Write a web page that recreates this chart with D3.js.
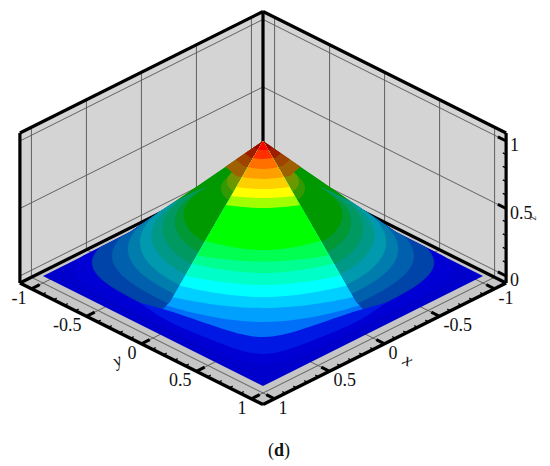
<!DOCTYPE html>
<html><head><meta charset="utf-8">
<style>html,body{margin:0;padding:0;background:#fff}svg{display:block}text{font-family:"Liberation Serif",serif;fill:#111}</style>
<script src="https://cdnjs.cloudflare.com/ajax/libs/d3/7.9.0/d3.min.js"></script>
</head><body><svg id="c" width="550" height="466"></svg>
<script>
// ---- axis data
const majorTicks = [-1, -0.5, 0, 0.5, 1];
const majorLabels = ["-1", "-0.5", "0", "0.5", "1"];
const minorTicks = [-0.9,-0.8,-0.7,-0.6,-0.4,-0.3,-0.2,-0.1,0.1,0.2,0.3,0.4,0.6,0.7,0.8,0.9];
const zTicks = [0, 0.5, 1];
const zLabels = ["0", "0.5", "1"];
const zMinorTicks = [0.1,0.2,0.3,0.4,0.6,0.7,0.8,0.9];
const boxLimit = 1.105, boxBottom = -0.052, boxTop = 1.059;

// ---- contour data
const levels = [0.05,0.1,0.15,0.2,0.25,0.3,0.35,0.4,0.45,0.5,0.55,0.6,0.65,0.7,0.75,0.8,0.85,0.9,0.95];
const bandColors = ["#0018e4","#0070f8","#00a0ff","#00d0ff","#00ffff","#00ffc8","#00ff90","#00ff50","#00ff00","#00ff00","#00ff00","#00ff00","#a0ff00","#ffff00","#ffd000","#ffa000","#ff7000","#ff3000","#ff0000"];
const floorColor = "#0000cc";
const outerShade = "#0000d4";
// half diagonal of each contour on the shaded flanks
const contourSpan = [0.86,0.777,0.686,0.614,0.559,0.505,0.455,0.40,0.359,0.314,0.268,0.227,0.191,0.164,0.136,0.105,0.082,0.055,0.027];
const contourSquareness = [6,4,3,2.5,2.2,2.1,2,2,2,2,2,2,2,2,2,2,2,2,2];
// lit face: [across, depth] samples of each contour, centre outward
const litArcs = [
 [[0,.77],[.209,.661],[.423,.48],[.559,.307],[.695,.143],[.809,-.011]],
 [[0,.677],[.209,.586],[.409,.45],[.455,.423],[.573,.323],[.664,.232],[.777,.05]],
 [[0,.602],[.445,.448]],
 [[0,.536],[.414,.436]],
 [[0,.498],[.391,.389]],
 [[0,.45],[.364,.359]],
 [[0,.402],[.332,.311]],
 [[0,.36],[.309,.3]],
 [[0,.316],[.277,.225]],
 [[0,.282],[.255,.2]],
 [[0,.248],[.227,.193]],
 [[0,.214],[.2,.174]],
 [[0,.179],[.168,.152]],
 [[0,.15],[.145,.132]],
 [[0,.13],[.123,.111]],
 [[0,.1],[.095,.082]],
 [[0,.07],[.07,.052]],
 [[0,.04],[.045,.032]],
 [[0,.02],[.023,.015]]
];
// outlines at floor level, one side: [across, depth]
const litFoot = [[.423,.236],[.455,.3]];
const silhouetteFoot = [.605,-.4];

// ---- scales
const acrossScale = d3.scaleLinear().domain([-1,1]).range([43,483]);
const depthScale = d3.scaleLinear().domain([-1,1]).range([166,386]);
const liftScale = d3.scaleLinear().domain([0,1]).range([0,135]);
const AD = (a,d,z=0) => [acrossScale(a), depthScale(d) - liftScale(z)];
const P = (x,y,z=0) => AD((y-x)/2,(x+y)/2,z);

const svg = d3.select("#c");
const defs = svg.append("defs");
const L = d3.line();
const poly = pts => L(pts)+"Z";
const B = boxLimit;
const apex = AD(0,0,1);

// ---- box faces
const g = svg.append("g");
g.append("path").attr("d",poly([P(B,-B,boxBottom),P(-B,-B,boxBottom),P(-B,B,boxBottom),P(B,B,boxBottom)])).attr("fill","#c6c6c6");
g.append("path").attr("d",poly([P(B,-B,boxBottom),P(-B,-B,boxBottom),P(-B,-B,boxTop),P(B,-B,boxTop)])).attr("fill","#d4d4d4");
g.append("path").attr("d",poly([P(-B,B,boxBottom),P(-B,-B,boxBottom),P(-B,-B,boxTop),P(-B,B,boxTop)])).attr("fill","#d4d4d4");

// ---- grid
const seg=(a,b,col,w)=>g.append("line").attr("x1",a[0]).attr("y1",a[1]).attr("x2",b[0]).attr("y2",b[1]).attr("stroke",col).attr("stroke-width",w);
majorTicks.forEach(t=>{
  seg(P(t,-B,boxBottom),P(t,-B,boxTop),"#6a6a6a",1.1);
  seg(P(-B,t,boxBottom),P(-B,t,boxTop),"#6a6a6a",1.1);
  seg(P(t,-B,boxBottom),P(t,B,boxBottom),"#555",0.9);
  seg(P(-B,t,boxBottom),P(B,t,boxBottom),"#555",0.9);
});
zTicks.forEach(z=>{
  seg(P(B,-B,z),P(-B,-B,z),"#555",0.9);
  seg(P(-B,B,z),P(-B,-B,z),"#555",0.9);
});

// ---- box edges behind the surface
const edge=(a,b)=>seg(a,b,"#000",3.2);
edge(P(B,-B,boxBottom),P(-B,-B,boxBottom));
edge(P(-B,B,boxBottom),P(-B,-B,boxBottom));
edge(P(-B,-B,boxBottom),P(-B,-B,boxTop));

// ---- surface floor
const s0 = svg.append("g");
s0.append("path").attr("d",poly([P(1,-1),P(-1,-1),P(-1,1),P(1,1)])).attr("fill",floorColor);

// ---- clip of the whole body: straight silhouette from the apex
const [sa,sd] = silhouetteFoot;
defs.append("clipPath").attr("id","body").append("path").attr("d",poly([apex,AD(-sa,sd),AD(-1,0),AD(0,1),AD(1,0),AD(sa,sd)]));
const s = svg.append("g").attr("clip-path","url(#body)");
s.append("path").attr("d",poly([apex,AD(-sa,sd),AD(0,.5),AD(sa,sd)])).attr("fill","#009800");

// ---- shaded layer: frusta between successive contours
const contourPoints = i => {
  const A=contourSpan[i], p=contourSquareness[i], R=A*Math.pow(2,1/p), z=levels[i];
  return d3.range(0,360,4).map(deg=>{
    const t=deg*Math.PI/180, c=Math.cos(t), n=Math.sin(t);
    const x=Math.sign(c)*R*Math.pow(Math.abs(c),2/p), y=Math.sign(n)*R*Math.pow(Math.abs(n),2/p);
    return P(x,y,z);
  });
};
const shaded = (c,i) => { if(i===0) return outerShade; const r=d3.rgb(c); return d3.rgb(r.r*.62,r.g*.6,r.b*.68).formatHex(); };
levels.forEach((z,i)=>{
  if(z>=0.8) return;
  const hull = d3.polygonHull(contourPoints(i).concat(contourPoints(i+1)));
  const col = shaded(bandColors[i],i);
  const ghost = z>=0.6;
  s.append("path").attr("d",poly(hull)).attr("fill",col)
    .attr("fill-opacity",ghost?.5:1).attr("stroke",ghost?"none":col).attr("stroke-width",.4);
});

// ---- arcs through the samples, extended past the last sample along the curve
const arcLine = d3.line().curve(d3.curveNatural);
const arcPath = i => {
  const z=levels[i];
  let half = litArcs[i];
  if(half.length===2){
    const [[,d0],[aE,dE]] = half;
    half = half.concat([[aE*1.3, d0-(d0-dE)*1.69]]);
  }
  const full = half.slice().reverse().map(([a,d])=>[-a,d]).concat(half.slice(1));
  return arcLine(full.map(([a,d])=>AD(a,d,z)))+"L"+AD(1.3,-2,z)+"L"+AD(-1.3,-2,z)+"Z";
};
// shaded flat caps near the apex
levels.forEach((z,i)=>{
  if(z<0.8) return;
  s.append("path").attr("d",arcPath(i)).attr("fill",shaded(bandColors[i],i));
});

// ---- lit layer
const footL = litFoot.map(([a,d])=>AD(-a,d));
const footR = litFoot.map(([a,d])=>AD(a,d)).reverse();
defs.append("clipPath").attr("id","litWide").append("path").attr("d",poly([apex].concat(footL,[AD(-1,0),AD(0,1),AD(1,0)],footR)));
defs.append("clipPath").attr("id","litFace").append("path").attr("d",poly([apex].concat(footL,[AD(-.455,1),AD(.455,1)],footR)));
const litW = svg.append("g").attr("clip-path","url(#litWide)");
const litF = svg.append("g").attr("clip-path","url(#litFace)");
levels.forEach((z,i)=>{
  (i<2?litW:litF).append("path").attr("d",arcPath(i)).attr("fill",bandColors[i]);
});

// ---- front edges, ticks
const a = svg.append("g");
const seg2=(p,q,w)=>a.append("line").attr("x1",p[0]).attr("y1",p[1]).attr("x2",q[0]).attr("y2",q[1]).attr("stroke","#000").attr("stroke-width",w);
seg2(P(B,-B,boxBottom),P(B,B,boxBottom),3.4);
seg2(P(-B,B,boxBottom),P(B,B,boxBottom),3.4);
seg2(P(B,-B,boxBottom),P(B,-B,boxTop),3.2);
seg2(P(-B,B,boxBottom),P(-B,B,boxTop),3.2);
seg2(P(B,-B,boxTop),P(-B,-B,boxTop),3.2);
seg2(P(-B,B,boxTop),P(-B,-B,boxTop),3.2);
majorTicks.forEach(t=>{
  seg2(P(B,t,boxBottom),P(B-.075,t,boxBottom),3);
  seg2(P(t,B,boxBottom),P(t,B-.075,boxBottom),3);
});
minorTicks.forEach(t=>{
  seg2(P(B,t,boxBottom),P(B-.03,t,boxBottom),1.2);
  seg2(P(t,B,boxBottom),P(t,B-.03,boxBottom),1.2);
});
zTicks.forEach(z=>seg2(P(-B,B,z),P(-B,B-.075,z),3));
zMinorTicks.forEach(z=>seg2(P(-B,B,z),P(-B,B-.03,z),1.2));

// ---- labels
const txt=(p,s,o={})=>svg.append("text").attr("x",p[0]+(o.dx||0)).attr("y",p[1]+(o.dy||0)).attr("font-size",o.size||18)
    .attr("text-anchor",o.anchor||"start").attr("dominant-baseline","central").text(s);
majorTicks.forEach((t,i)=>{
  txt(P(B,t,boxBottom),majorLabels[i],{anchor:"end",dx:-5,dy:9});
  txt(P(t,B,boxBottom),majorLabels[i],{anchor:"start",dx:4,dy:9});
});
zTicks.forEach((z,i)=>txt(P(-B,B,z),zLabels[i],{dx:4,dy:4}));
const titled=(x,y,rot,s,size)=>svg.append("text").attr("transform",`translate(${x},${y}) rotate(${rot})`)
  .attr("font-size",size).attr("font-style","italic").attr("text-anchor","middle").attr("dominant-baseline","central").text(s);
titled(117,360,-27,"y",18);
titled(408,360,27,"x",18);
titled(534,218,90,"z",12).style("fill","#444");
const cap=svg.append("text").attr("x",279).attr("y",450).attr("font-size",18).attr("text-anchor","middle").attr("dominant-baseline","central");
cap.append("tspan").text("(");
cap.append("tspan").attr("font-weight","bold").text("d");
cap.append("tspan").text(")");
</script></body></html>
